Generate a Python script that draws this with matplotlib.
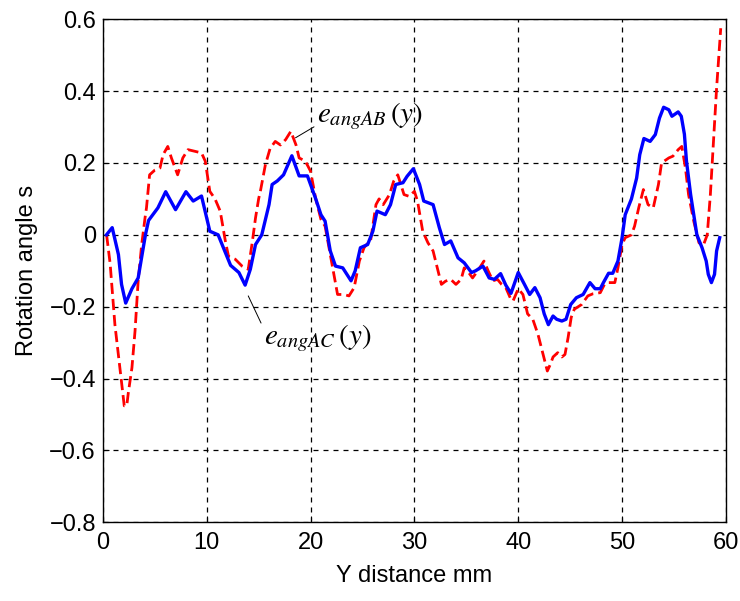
import matplotlib
matplotlib.use("Agg")
import matplotlib.pyplot as plt

plt.rcParams['mathtext.fontset'] = 'stix'
plt.rcParams['font.family'] = ['Liberation Sans', 'DejaVu Sans']

# eangAC (blue, solid)
ac_x = [0.35, 0.9, 1.5, 1.8, 2.2, 2.8, 3.4, 4.1, 4.4, 5.3, 6.05, 7.0, 8.0, 8.7, 9.5, 10.3, 11.1,
        12.3, 13.1, 13.7, 14.2, 14.7, 15.3, 16.0, 16.3, 16.8, 17.4, 18.2, 18.9, 19.7, 20.5, 21.0,
        21.4, 21.9, 22.4, 23.1, 23.9, 24.3, 24.8, 25.5, 26.0, 26.4, 27.2, 27.7, 28.2, 28.9, 29.3,
        29.9, 30.5, 30.9, 31.8, 32.4, 32.9, 33.5, 34.2, 34.8, 35.5, 35.9, 36.6, 37.2, 37.7, 38.3,
        38.8, 39.3, 40.0, 40.6, 41.1, 41.6, 42.1, 42.5, 42.9, 43.35, 43.7, 44.2, 44.6, 45.05, 45.6,
        46.25, 46.9, 47.4, 47.9, 48.2, 48.7, 49.1, 49.6, 50.0, 50.3, 50.9, 51.4, 51.7, 52.1, 52.7,
        53.2, 53.6, 54.0, 54.5, 54.8, 55.4, 55.7, 56.0, 56.2, 56.6, 56.9, 57.2, 57.7, 58.1, 58.3,
        58.6, 58.9, 59.1, 59.4]
ac_y = [0.0, 0.02, -0.055, -0.138, -0.19, -0.15, -0.12, 0.0, 0.04, 0.075, 0.12, 0.07, 0.12, 0.094,
        0.108, 0.01, 0.0, -0.085, -0.105, -0.14, -0.096, -0.027, 0.0, 0.084, 0.14, 0.15, 0.167, 0.22,
        0.164, 0.164, 0.10, 0.056, 0.038, -0.045, -0.087, -0.092, -0.128, -0.10, -0.036, -0.027, 0.01,
        0.066, 0.056, 0.084, 0.14, 0.145, 0.163, 0.184, 0.14, 0.094, 0.084, 0.02, -0.027, -0.017,
        -0.064, -0.078, -0.105, -0.10, -0.087, -0.12, -0.124, -0.108, -0.14, -0.163, -0.105, -0.138,
        -0.166, -0.147, -0.175, -0.22, -0.25, -0.226, -0.235, -0.24, -0.235, -0.194, -0.175, -0.166,
        -0.133, -0.15, -0.15, -0.133, -0.107, -0.107, -0.073, -0.008, 0.056, 0.10, 0.158, 0.223,
        0.268, 0.26, 0.279, 0.325, 0.355, 0.348, 0.33, 0.342, 0.33, 0.28, 0.205, 0.112, 0.056, 0.0,
        -0.036, -0.073, -0.11, -0.133, -0.11, -0.045, -0.008]

# eangAB (red, dashed)
ab_x = [0.36, 0.7, 1.16, 1.6, 2.06, 2.3, 2.45, 2.8, 3.1, 3.4, 3.74, 4.06, 4.2, 4.5, 5.0, 5.5, 5.8,
        6.25, 6.6, 7.2, 7.7, 8.2, 8.9, 9.5, 9.86, 10.3, 10.8, 11.3, 11.8, 12.1, 12.75, 13.4, 14.0,
        14.4, 14.7, 15.0, 15.2, 15.65, 16.1, 16.6, 17.1, 17.6, 18.1, 18.6, 18.9, 19.5, 20.0, 20.5,
        21.0, 21.4, 21.9, 22.25, 22.6, 23.2, 23.7, 24.2, 24.7, 25.15, 25.8, 26.3, 26.6, 27.0, 27.6,
        28.0, 28.4, 29.0, 29.5, 30.0, 30.3, 30.8, 31.3, 31.8, 32.2, 32.6, 33.0, 33.5, 34.0, 34.5,
        34.8, 35.1, 35.6, 36.1, 36.7, 37.1, 37.55, 38.0, 38.4, 38.8, 39.3, 39.5, 40.0, 40.45, 40.9,
        41.4, 41.9, 42.4, 42.8, 43.1, 43.35, 43.8, 44.2, 44.5, 44.8, 45.1, 45.4, 46.1, 46.7, 47.2,
        47.9, 48.3, 48.7, 49.3, 49.6, 50.0, 50.3, 50.9, 51.2, 51.6, 52.05, 52.5, 53.0, 53.5, 53.8,
        54.5, 54.9, 55.4, 55.75, 56.1, 56.4, 56.9, 57.4, 57.8, 58.2, 58.5, 58.8, 59.1, 59.35, 59.5]
ab_y = [0.0, -0.08, -0.25, -0.36, -0.476, -0.476, -0.44, -0.37, -0.267, -0.128, -0.027, 0.047, 0.075,
        0.167, 0.18, 0.186, 0.223, 0.246, 0.214, 0.167, 0.214, 0.237, 0.232, 0.228, 0.205, 0.121, 0.10,
        0.066, -0.018, -0.06, -0.068, -0.087, -0.096, -0.018, 0.047, 0.10, 0.126, 0.195, 0.24, 0.26,
        0.25, 0.265, 0.288, 0.25, 0.214, 0.205, 0.177, 0.10, 0.043, 0.024, -0.055, -0.11, -0.166,
        -0.166, -0.17, -0.147, -0.073, -0.036, -0.013, 0.084, 0.10, 0.084, 0.112, 0.149, 0.167, 0.112,
        0.107, 0.121, 0.094, 0.01, -0.022, -0.045, -0.092, -0.138, -0.129, -0.124, -0.138, -0.124,
        -0.092, -0.10, -0.12, -0.10, -0.073, -0.10, -0.128, -0.124, -0.138, -0.147, -0.18, -0.184,
        -0.15, -0.166, -0.22, -0.235, -0.277, -0.333, -0.379, -0.36, -0.34, -0.328, -0.34, -0.333,
        -0.286, -0.23, -0.207, -0.194, -0.17, -0.164, -0.161, -0.138, -0.133, -0.133, -0.092, -0.027,
        -0.008, 0.0, 0.024, 0.075, 0.126, 0.084, 0.075, 0.14, 0.2, 0.214, 0.219, 0.237, 0.246, 0.186,
        0.112, 0.038, -0.022, -0.031, 0.0, 0.112, 0.26, 0.408, 0.51, 0.575]

x_ticks = [0, 10, 20, 30, 40, 50, 60]
y_ticks = [-0.8, -0.6, -0.4, -0.2, 0, 0.2, 0.4, 0.6]
y_ticklabels = ['\u22120.8', '\u22120.6', '\u22120.4', '\u22120.2', '0', '0.2', '0.4', '0.6']

fig = plt.figure(figsize=(7.4, 6.01), dpi=100)
ax = fig.add_axes([0.139, 0.131, 0.842, 0.837])

ax.plot(ab_x, ab_y, color='red', linestyle=(0, (4, 1.8)), linewidth=2.0, zorder=3)
ax.plot(ac_x, ac_y, color='blue', linestyle='-', linewidth=2.4, zorder=4)

ax.set_xlim(0, 60)
ax.set_ylim(-0.8, 0.6)
ax.set_xticks(x_ticks)
ax.set_yticks(y_ticks)
ax.set_yticklabels(y_ticklabels)
ax.grid(True, color='black', linestyle=(0, (4, 4)), linewidth=0.9)
ax.tick_params(direction='in', length=4, labelsize=17)
ax.tick_params(axis='x', pad=7)
ax.tick_params(axis='y', pad=5)
for s in ax.spines.values():
    s.set_linewidth(1.0)

ax.set_xlabel('Y distance mm', fontsize=17, labelpad=8)
ax.set_ylabel('Rotation angle s', fontsize=17, labelpad=8)

# annotations
ax.annotate(r'$e_{angAB}\,(y)$', xy=(18.55, 0.27), xytext=(20.6, 0.315),
            fontsize=21, ha='left', va='baseline',
            arrowprops=dict(arrowstyle='-', color='black', lw=0.7, shrinkA=0, shrinkB=0,
                            relpos=(0.0, 0.2)))
ax.annotate(r'$e_{angAC}\,(y)$', xy=(14.0, -0.17), xytext=(15.5, -0.305),
            fontsize=21, ha='left', va='baseline',
            arrowprops=dict(arrowstyle='-', color='black', lw=0.7, shrinkA=0, shrinkB=0,
                            relpos=(0.0, 0.8)))

fig.savefig('out.png', dpi=100)
